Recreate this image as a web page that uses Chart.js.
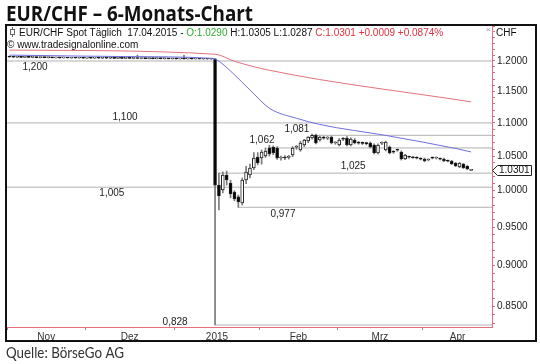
<!DOCTYPE html>
<html>
<head>
<meta charset="utf-8">
<title>EUR/CHF 6-Monats-Chart</title>
<script src="https://cdn.jsdelivr.net/npm/chart.js@4.4.1/dist/chart.umd.min.js"></script>
<style>
  html, body { margin: 0; padding: 0; background: #fff; }
  canvas { display: block; }
</style>
</head>
<body>
<canvas id="chart" width="540" height="364"></canvas>
<script>
'use strict';

// daily candles, trading day 0 = 03.11.2014, day 119 = 17.04.2015
const opens = [
  1.2072, 1.2068, 1.2064, 1.2066, 1.2061, 1.2063, 1.2060, 1.2062, 1.2058, 1.2060,
  1.2056, 1.2058, 1.2054, 1.2056, 1.2053, 1.2055, 1.2051, 1.2053, 1.2050, 1.2052,
  1.2049, 1.2051, 1.2048, 1.2050, 1.2047, 1.2049, 1.2046, 1.2048, 1.2045, 1.2047,
  1.2044, 1.2046, 1.2043, 1.2045, 1.2042, 1.2044, 1.2041, 1.2043, 1.2040, 1.2042,
  1.2039, 1.2041, 1.2038, 1.2040, 1.2037, 1.2039, 1.2036, 1.2038, 1.2035, 1.2037,
  1.2034, 1.2036, 1.2033, 1.2035, 1.0080, 1.0010, 1.0223, 1.0109, 0.9982, 0.9913,
  0.9830, 1.0152, 1.0223, 1.0325, 1.0485, 1.0471, 1.0500, 1.0620, 1.0634, 1.0619,
  1.0471, 1.0476, 1.0480, 1.0515, 1.0630, 1.0589, 1.0664, 1.0724, 1.0769, 1.0810,
  1.0739, 1.0772, 1.0768, 1.0784, 1.0694, 1.0664, 1.0754, 1.0769, 1.0664, 1.0739,
  1.0694, 1.0690, 1.0687, 1.0694, 1.0664, 1.0544, 1.0690, 1.0589, 1.0634, 1.0559,
  1.0589, 1.0559, 1.0456, 1.0485, 1.0478, 1.0471, 1.0456, 1.0456, 1.0441, 1.0471,
  1.0471, 1.0456, 1.0456, 1.0427, 1.0427, 1.0397, 1.0339, 1.0383, 1.0353, 1.0290
];
const highs = [
  1.2080, 1.2075, 1.2072, 1.2074, 1.2070, 1.2071, 1.2068, 1.2069, 1.2066, 1.2067,
  1.2064, 1.2065, 1.2062, 1.2063, 1.2061, 1.2062, 1.2059, 1.2060, 1.2058, 1.2059,
  1.2057, 1.2058, 1.2056, 1.2057, 1.2055, 1.2056, 1.2054, 1.2055, 1.2053, 1.2054,
  1.2052, 1.2053, 1.2051, 1.2100, 1.2050, 1.2051, 1.2049, 1.2050, 1.2048, 1.2049,
  1.2047, 1.2048, 1.2046, 1.2047, 1.2045, 1.2095, 1.2044, 1.2045, 1.2043, 1.2044,
  1.2042, 1.2043, 1.2041, 1.2040, 1.0250, 1.0267, 1.0280, 1.0150, 1.0000, 0.9940,
  1.0180, 1.0350, 1.0380, 1.0550, 1.0550, 1.0590, 1.0620, 1.0660, 1.0650, 1.0640,
  1.0500, 1.0505, 1.0510, 1.0640, 1.0660, 1.0720, 1.0750, 1.0790, 1.0830, 1.0830,
  1.0800, 1.0795, 1.0790, 1.0800, 1.0715, 1.0760, 1.0775, 1.0790, 1.0770, 1.0760,
  1.0715, 1.0710, 1.0705, 1.0710, 1.0680, 1.0680, 1.0710, 1.0720, 1.0650, 1.0580,
  1.0605, 1.0575, 1.0525, 1.0500, 1.0495, 1.0488, 1.0472, 1.0470, 1.0458, 1.0486,
  1.0485, 1.0470, 1.0468, 1.0440, 1.0435, 1.0405, 1.0405, 1.0392, 1.0360, 1.0305
];
const lows = [
  1.2062, 1.2058, 1.2057, 1.2058, 1.2055, 1.2056, 1.2053, 1.2054, 1.2051, 1.2052,
  1.2050, 1.2050, 1.2048, 1.2049, 1.2047, 1.2048, 1.2045, 1.2046, 1.2044, 1.2045,
  1.2043, 1.2044, 1.2042, 1.2043, 1.2041, 1.2042, 1.2040, 1.2041, 1.2039, 1.2040,
  1.2038, 1.2039, 1.2037, 1.2038, 1.2036, 1.2037, 1.2035, 1.2036, 1.2034, 1.2035,
  1.2033, 1.2034, 1.2032, 1.2033, 1.2031, 1.2032, 1.2030, 1.2031, 1.2029, 1.2030,
  1.2028, 1.2029, 1.2027, 0.8280, 0.9735, 0.9970, 1.0080, 0.9900, 0.9860, 0.9770,
  0.9800, 1.0100, 1.0180, 1.0300, 1.0370, 1.0380, 1.0480, 1.0500, 1.0520, 1.0450,
  1.0440, 1.0445, 1.0455, 1.0490, 1.0600, 1.0570, 1.0640, 1.0700, 1.0750, 1.0680,
  1.0720, 1.0750, 1.0745, 1.0680, 1.0675, 1.0650, 1.0730, 1.0650, 1.0650, 1.0680,
  1.0675, 1.0670, 1.0665, 1.0620, 1.0530, 1.0530, 1.0670, 1.0575, 1.0530, 1.0540,
  1.0570, 1.0440, 1.0445, 1.0470, 1.0465, 1.0458, 1.0442, 1.0415, 1.0428, 1.0458,
  1.0455, 1.0442, 1.0415, 1.0414, 1.0375, 1.0345, 1.0330, 1.0318, 1.0300, 1.0287
];
const closes = [
  1.2068, 1.2064, 1.2066, 1.2061, 1.2063, 1.2060, 1.2062, 1.2058, 1.2060, 1.2056,
  1.2058, 1.2054, 1.2056, 1.2053, 1.2055, 1.2051, 1.2053, 1.2050, 1.2052, 1.2049,
  1.2051, 1.2048, 1.2050, 1.2047, 1.2049, 1.2046, 1.2048, 1.2045, 1.2047, 1.2044,
  1.2046, 1.2043, 1.2045, 1.2042, 1.2044, 1.2041, 1.2043, 1.2040, 1.2042, 1.2039,
  1.2041, 1.2038, 1.2040, 1.2037, 1.2039, 1.2036, 1.2038, 1.2035, 1.2037, 1.2034,
  1.2036, 1.2033, 1.2035, 1.0080, 0.9927, 1.0223, 1.0152, 0.9955, 0.9885, 0.9844,
  1.0152, 1.0267, 1.0325, 1.0471, 1.0397, 1.0559, 1.0574, 1.0530, 1.0544, 1.0471,
  1.0476, 1.0471, 1.0488, 1.0619, 1.0636, 1.0694, 1.0739, 1.0784, 1.0810, 1.0694,
  1.0784, 1.0768, 1.0771, 1.0694, 1.0696, 1.0739, 1.0750, 1.0664, 1.0754, 1.0694,
  1.0691, 1.0688, 1.0684, 1.0634, 1.0544, 1.0664, 1.0694, 1.0709, 1.0544, 1.0556,
  1.0586, 1.0456, 1.0515, 1.0482, 1.0475, 1.0468, 1.0453, 1.0427, 1.0444, 1.0468,
  1.0474, 1.0453, 1.0427, 1.0424, 1.0383, 1.0353, 1.0397, 1.0325, 1.0310, 1.0301
];

// moving averages (trading day, value)
const blueDays = [0, 30, 52, 53.5, 57.6, 62, 67.2, 74, 80, 97.3, 115.4, 119];
const blueValues = [1.2100, 1.2075, 1.2045, 1.2017, 1.1795, 1.1520, 1.1222, 1.1072, 1.0976, 1.0805, 1.0607, 1.0560];
const redDays = [0, 53, 58, 67, 119];
const redValues = [1.2185, 1.2115, 1.1995, 1.1845, 1.1330];

// drawn support / resistance levels
const levelValues = [1.200, 1.100, 1.081, 1.062, 1.025, 1.005, 0.977, 0.828];
const levelTexts = ['1,200', '1,100', '1,081', '1,062', '1,025', '1,005', '0,977', '0,828'];
const levelFrom = [null, null, 78, 67, 54, null, 59, 53];

// axes
const monthStarts = [-0.5, 19.5, 42.5, 64.5, 84.5, 106.5];
const monthLabelDays = [9.5, 31, 53.5, 74.5, 95.5, 115.5];
const monthLabels = ['Nov', 'Dez', '2015', 'Feb', 'Mrz', 'Apr'];
const yTickLabels = [1.20, 1.15, 1.10, 1.05, 1.00, 0.95, 0.90, 0.85];

// layout
const xMin = -0.62, xMax = 124.38;
const yMin = 0.8257, yMax = 1.2605;
const labelDay = [6.6, 29.8, 74.1, 65.1, 88.6, 26.4, 70.5, 42.7];
const labelDy = [6, -6, -6, -7.5, -7, 6, 6.5, -3];

const RED = '#e5707c';
const BLUE = '#6f6fe0';
const LEVEL = '#b2b2b2';
const FONT = '"Liberation Sans", Arial, sans-serif';

let minorTicks = [];
for (let k = 83; k <= 126; k++) minorTicks.push(k / 100);

let levelSets = levelValues.map((v, k) => ({
  type: 'line',
  data: [{ x: levelFrom[k] === null ? xMin : levelFrom[k], y: v }, { x: xMax, y: v }],
  borderColor: LEVEL,
  borderWidth: 1,
  pointRadius: 0,
  order: 5
}));

const overlay = {
  id: 'overlay',
  afterDraw(chart) {
    const { ctx, scales: { x, y } } = chart;
    ctx.save();

    // level labels
    ctx.font = '10px ' + FONT;
    ctx.fillStyle = '#222';
    ctx.textAlign = 'center';
    ctx.textBaseline = 'middle';
    levelTexts.forEach((t, k) => {
      ctx.fillText(t, x.getPixelForValue(labelDay[k]), y.getPixelForValue(levelValues[k]) + labelDy[k]);
    });

    // header lines
    ctx.textAlign = 'left';
    ctx.textBaseline = 'alphabetic';
    let parts = [
      ['EUR/CHF Spot Täglich  17.04.2015 - ', '#111'],
      ['O:1.0290', '#33aa33'],
      [' H:1.0305 L:1.0287 ', '#111'],
      ['C:1.0301 +0.0009 +0.0874%', '#e3303f']
    ];
    let hx = 19;
    parts.forEach(p => {
      ctx.fillStyle = p[1];
      ctx.fillText(p[0], hx, 36);
      hx += ctx.measureText(p[0]).width;
    });
    ctx.fillStyle = '#111';
    ctx.fillText('© www.tradesignalonline.com', 7, 48);
    ctx.fillText('CHF', 496, 36);

    // small candle icon
    ctx.strokeStyle = '#666';
    ctx.lineWidth = 1;
    ctx.beginPath();
    ctx.moveTo(12.5, 27); ctx.lineTo(12.5, 37);
    ctx.stroke();
    ctx.fillStyle = '#fff';
    ctx.fillRect(10.5, 29.5, 4, 5);
    ctx.strokeRect(10.5, 29.5, 4, 5);
    ctx.fillStyle = '#999';
    ctx.font = '8px ' + FONT;
    ctx.fillText('×', 486, 32);

    // last price marker
    const py = Math.round(y.getPixelForValue(closes[closes.length - 1])) + 0.5;
    ctx.beginPath();
    ctx.moveTo(492.5, py);
    ctx.lineTo(497.5, py - 5);
    ctx.lineTo(531.5, py - 5);
    ctx.lineTo(531.5, py + 5);
    ctx.lineTo(497.5, py + 5);
    ctx.closePath();
    ctx.fillStyle = '#fff';
    ctx.fill();
    ctx.strokeStyle = '#222';
    ctx.stroke();
    ctx.fillStyle = '#111';
    ctx.font = '10px ' + FONT;
    ctx.textBaseline = 'middle';
    ctx.fillText(closes[closes.length - 1].toFixed(4), 499, py);

    // frame
    ctx.strokeStyle = '#111';
    ctx.lineWidth = 2;
    ctx.strokeRect(6, 25, 530, 316);

    // title and source
    ctx.textBaseline = 'alphabetic';
    ctx.fillStyle = '#111';
    ctx.font = 'bold 21px "Open Sans", sans-serif';
    let tw = ctx.measureText('EUR/CHF – 6-Monats-Chart').width;
    ctx.save();
    ctx.translate(6, 21);
    ctx.scale(247 / tw, 1);
    ctx.fillText('EUR/CHF – 6-Monats-Chart', 0, 0);
    ctx.restore();

    ctx.fillStyle = '#333';
    ctx.font = '15px Lato, sans-serif';
    let sw = ctx.measureText('Quelle: BörseGo AG').width;
    ctx.save();
    ctx.translate(6, 358);
    ctx.scale(118 / sw, 1);
    ctx.fillText('Quelle: BörseGo AG', 0, 0);
    ctx.restore();

    ctx.restore();
  }
};

const data = {
  datasets: [
    {
      type: 'line',
      data: blueDays.map((d, k) => ({ x: d, y: blueValues[k] })),
      borderColor: BLUE,
      borderWidth: 1,
      pointRadius: 0,
      cubicInterpolationMode: 'monotone',
      order: 1
    },
    {
      type: 'line',
      data: redDays.map((d, k) => ({ x: d, y: redValues[k] })),
      borderColor: RED,
      borderWidth: 1,
      pointRadius: 0,
      cubicInterpolationMode: 'monotone',
      order: 1
    },
    {
      type: 'bar',
      data: opens.map((o, i) => ({ x: i, y: [o, closes[i]] })),
      barThickness: 3,
      minBarLength: 1,
      grouped: false,
      borderSkipped: false,
      borderWidth: 1,
      borderColor: '#222',
      backgroundColor: c => closes[c.dataIndex] < opens[c.dataIndex] ? '#000' : '#fff',
      order: 2
    },
    {
      type: 'bar',
      data: lows.map((l, i) => ({ x: i, y: [l, highs[i]] })),
      barThickness: 1,
      grouped: false,
      borderWidth: 0,
      backgroundColor: '#7a7a7a',
      order: 3
    },
    ...levelSets
  ]
};

const config = {
  type: 'bar',
  data: data,
  options: {
    responsive: false,
    animation: false,
    devicePixelRatio: 1,
    events: [],
    layout: { padding: { left: 7, top: 26, right: 0, bottom: 0 } },
    plugins: { legend: { display: false }, tooltip: { enabled: false } },
    scales: {
      x: {
        type: 'linear',
        min: xMin,
        max: xMax,
        offset: false,
        afterBuildTicks: s => {
          s.ticks = monthStarts.concat(monthLabelDays).sort((a, b) => a - b).map(v => ({ value: v }));
        },
        afterFit: s => { s.height = 37; },
        grid: {
          drawOnChartArea: false,
          offset: false,
          tickLength: 3,
          tickColor: c => monthStarts.includes(c.tick.value) ? '#888' : 'rgba(0,0,0,0)'
        },
        border: { color: RED, width: 1 },
        ticks: {
          autoSkip: false,
          maxRotation: 0,
          padding: 1,
          color: '#333',
          font: { family: FONT, size: 10 },
          callback: v => {
            const k = monthLabelDays.indexOf(v);
            return k < 0 ? '' : monthLabels[k];
          }
        }
      },
      y: {
        type: 'logarithmic',
        position: 'right',
        min: yMin,
        max: yMax,
        afterBuildTicks: s => { s.ticks = minorTicks.map(v => ({ value: v })); },
        afterFit: s => { s.width = 48; },
        grid: { drawOnChartArea: false, tickLength: 3, tickColor: RED },
        border: { color: RED, width: 1 },
        ticks: {
          autoSkip: false,
          padding: 2,
          color: '#222',
          font: { family: FONT, size: 10 },
          callback: v => yTickLabels.some(t => Math.abs(t - v) < 1e-6) ? v.toFixed(4) : ''
        }
      }
    }
  },
  plugins: [overlay]
};

new Chart(document.getElementById('chart'), config);
</script>
</body>
</html>
